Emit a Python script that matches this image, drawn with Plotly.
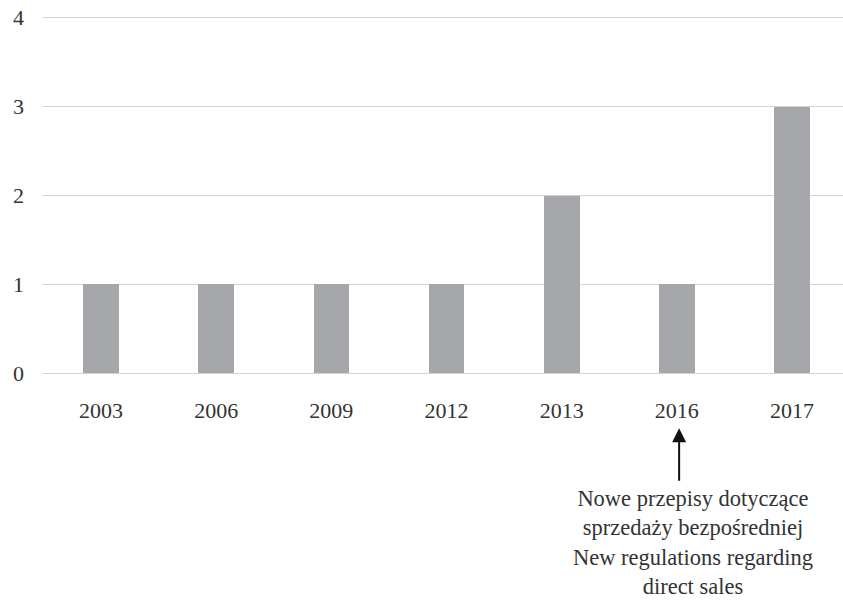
import plotly.graph_objects as go

years = ["2003", "2006", "2009", "2012", "2013", "2016", "2017"]
counts = [1, 1, 1, 1, 2, 1, 3]
y_ticks = [0, 1, 2, 3, 4]
note_lines = [
    "Nowe przepisy dotyczące",
    "sprzedaży bezpośredniej",
    "New regulations regarding",
    "direct sales",
]
note_year = "2016"

font_family = "Liberation Serif, Times New Roman, serif"
text_color = "#333333"

fig = go.Figure(
    go.Bar(
        x=list(range(len(years))),
        y=counts,
        marker=dict(color="#a6a7aa", line=dict(width=0)),
        width=0.31,
    )
)

note_x = years.index(note_year)

# Arrow pointing at the marked year (vertical position in paper units, below the axis)
fig.add_annotation(
    x=note_x + 0.02, y=-0.148, xref="x", yref="paper",
    ax=0, ay=54, axref="pixel", ayref="pixel",
    text="", showarrow=True,
    arrowhead=2, arrowsize=1.4, arrowwidth=2, arrowcolor="#111111",
)

# Explanatory note below the arrow, set slightly to the right of it
fig.add_annotation(
    x=note_x, y=-0.305, xref="x", yref="paper",
    xanchor="center", yanchor="top", xshift=16,
    text="<br>".join(note_lines), showarrow=False, align="center",
    font=dict(family=font_family, size=22.5, color=text_color),
)

fig.update_layout(
    width=843, height=607,
    margin=dict(l=43, r=0, t=16, b=232),
    plot_bgcolor="white", paper_bgcolor="white",
    showlegend=False,
    font=dict(family=font_family, size=22, color=text_color),
    bargap=0,
)
fig.update_xaxes(
    range=[-0.504, 6.443],
    tickmode="array", tickvals=list(range(len(years))), ticktext=years,
    showgrid=False, zeroline=False, showline=False, ticks="",
    ticklabelstandoff=20,
    tickfont=dict(family=font_family, size=22, color=text_color),
)
fig.update_yaxes(
    range=[-0.02, 4.02],
    tickmode="array", tickvals=y_ticks,
    showgrid=True, gridcolor="#d3d3d3", gridwidth=1,
    zeroline=True, zerolinecolor="#d3d3d3", zerolinewidth=1,
    showline=False, ticks="",
    ticklabelstandoff=18,
    tickfont=dict(family=font_family, size=22, color=text_color),
)

fig.write_html("out.html")
